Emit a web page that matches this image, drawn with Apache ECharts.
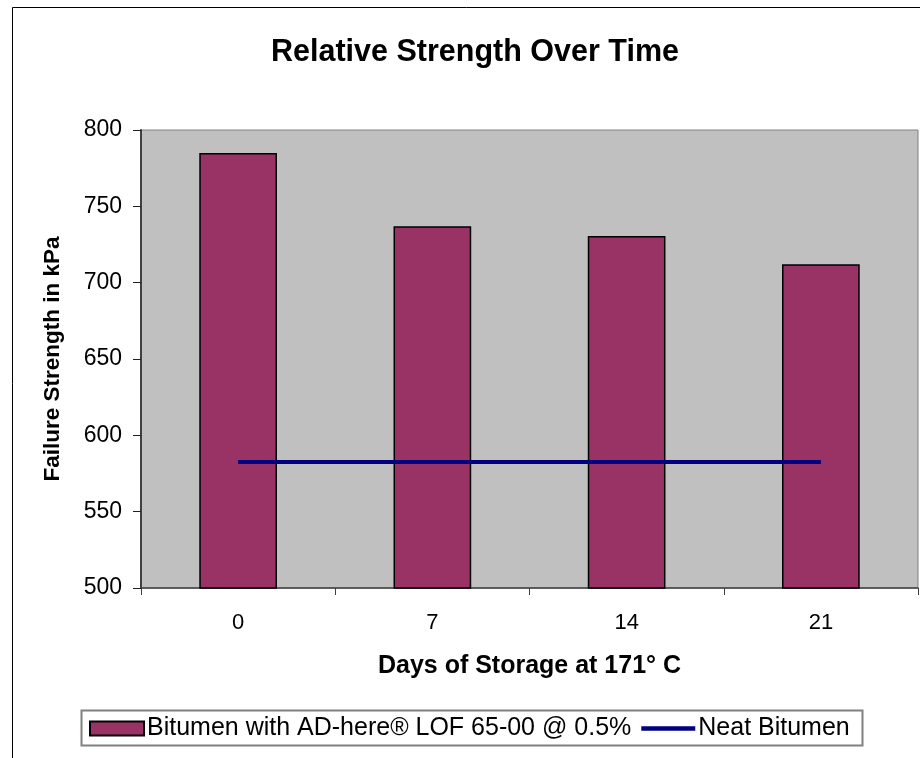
<!DOCTYPE html>
<html>
<head>
<meta charset="utf-8">
<script src="https://cdn.jsdelivr.net/npm/echarts@6/dist/echarts.min.js"></script>
<style>html,body{margin:0;padding:0;background:#fff;}#c{width:920px;height:758px;}</style>
</head>
<body>
<div id="c"></div>
<script>
const categories = ['0', '7', '14', '21'];
const adHereValues = [785, 737, 730.5, 712];
const neatValues = [582.5, 582.5, 582.5, 582.5];
const seriesNames = ['Bitumen with AD-here\u00AE LOF 65-00 @ 0.5%', 'Neat Bitumen'];
const titleText = 'Relative Strength Over Time';
const xName = 'Days of Storage at 171\u00B0 C';
const yName = 'Failure Strength in kPa';

const FONT = '"Liberation Sans", Arial, sans-serif';
const chart = echarts.init(document.getElementById('c'), null, {renderer: 'canvas'});
chart.setOption({
  animation: false,
  backgroundColor: '#fff',
  textStyle: {fontFamily: FONT, color: '#000'},
  title: {
    text: titleText, left: 475, top: 37, textAlign: 'center', padding: 0,
    textStyle: {fontFamily: FONT, fontSize: 30.5, fontWeight: 'bold', color: '#000'}
  },
  graphic: [
    {type: 'rect', silent: true, z: -1, shape: {x: 12.5, y: 7.5, width: 1000, height: 1000}, style: {fill: 'none', stroke: '#000', lineWidth: 1}},
    {type: 'rect', silent: true, shape: {x: 81.5, y: 710.5, width: 781, height: 35}, style: {fill: 'none', stroke: '#808080', lineWidth: 2}}
  ],
  legend: {
    left: 89, top: 716, padding: 0, itemGap: 10,
    itemWidth: 54, itemHeight: 14,
    textStyle: {fontFamily: FONT, fontSize: 25, color: '#000', padding: [0, 0, 0, -2]},
    data: [
      {name: seriesNames[0], icon: 'rect'},
      {name: seriesNames[1], icon: 'path://M0,0 L54,0 L54,4.5 L0,4.5 Z', itemStyle: {color: '#000080', borderWidth: 0}}
    ]
  },
  grid: {
    left: 141, right: 2, top: 130, bottom: 170,
    show: true, backgroundColor: '#c0c0c0', borderColor: '#808080', borderWidth: 1
  },
  xAxis: {
    type: 'category', data: categories, boundaryGap: true,
    name: xName, nameLocation: 'middle', nameGap: 66,
    nameTextStyle: {fontFamily: FONT, fontSize: 25, fontWeight: 'bold', color: '#000'},
    axisLine: {lineStyle: {color: '#404040', width: 1.5}},
    axisTick: {show: true, length: 7, lineStyle: {color: '#404040'}},
    axisLabel: {fontFamily: FONT, fontSize: 22, color: '#000', margin: 24},
    splitLine: {show: false}
  },
  yAxis: {
    type: 'value', min: 500, max: 800, interval: 50,
    name: yName, nameLocation: 'middle', nameGap: 77, nameRotate: 90,
    nameTextStyle: {fontFamily: FONT, fontSize: 22.5, fontWeight: 'bold', color: '#000'},
    axisLine: {show: true, lineStyle: {color: '#404040', width: 2}},
    axisTick: {show: true, length: 8, lineStyle: {color: '#202020'}},
    axisLabel: {fontFamily: FONT, fontSize: 23, color: '#000', margin: 19},
    splitLine: {show: false}
  },
  series: [
    {
      name: seriesNames[0], type: 'bar', data: adHereValues, barWidth: '40%',
      itemStyle: {color: '#993366', borderColor: '#000', borderWidth: 1.5}
    },
    {
      name: seriesNames[1], type: 'line', data: neatValues, symbol: 'none', showSymbol: false,
      lineStyle: {color: '#000080', width: 4}, itemStyle: {color: '#000080'}, z: 5
    }
  ]
});
</script>
</body>
</html>
